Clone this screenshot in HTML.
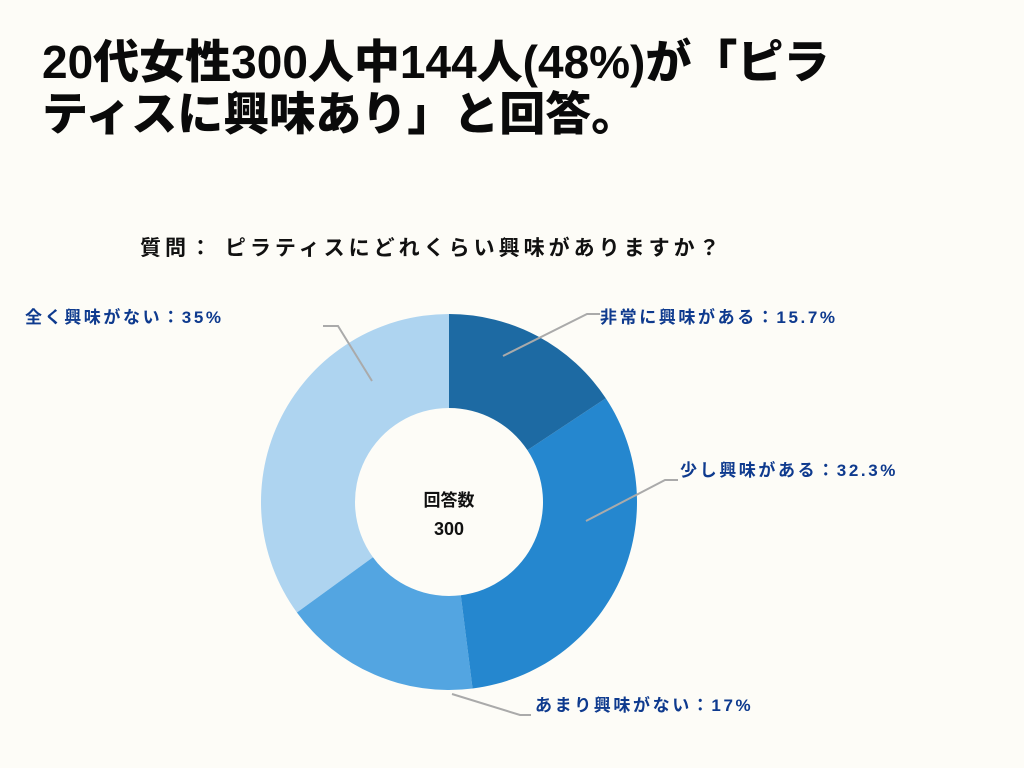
<!DOCTYPE html>
<html><head><meta charset="utf-8"><style>
body{margin:0;background:#fdfcf7;}
#wrap{position:relative;width:1024px;height:768px;overflow:hidden;font-family:"Liberation Sans","Noto Sans CJK JP",sans-serif;}
h1{position:absolute;left:42px;top:36px;margin:0;font-size:46px;line-height:52px;font-weight:900;color:#0a0a0a;letter-spacing:0px;white-space:nowrap}
.q{position:absolute;left:140px;top:232px;font-size:21px;font-weight:bold;color:#111;letter-spacing:4px;white-space:nowrap}
.lab{position:absolute;font-size:17px;font-weight:bold;color:#0e3a8e;letter-spacing:2.6px;white-space:nowrap}
</style></head><body>
<div id="wrap">
<h1>20代女性300人中144人(48%)が「ピラ<br>ティスに興味あり」と回答。</h1>
<div class="q">質問： ピラティスにどれくらい興味がありますか？</div>
<svg id="svg" width="1024" height="768" style="position:absolute;left:0;top:0">
<text x="449" y="506" text-anchor="middle" font-size="17" font-weight="bold" fill="#111" font-family="Liberation Sans,Noto Sans CJK JP,sans-serif">回答数</text>
<text x="449" y="535" text-anchor="middle" font-size="18" font-weight="bold" fill="#111" font-family="Liberation Sans,sans-serif">300</text>
</svg>
<div class="lab" style="left:600px;top:303px">非常に興味がある：15.7%</div>
<div class="lab" style="left:680px;top:456px">少し興味がある：32.3%</div>
<div class="lab" style="left:535px;top:691px">あまり興味がない：17%</div>
<div class="lab" style="left:25px;top:303px">全く興味がない：35%</div>
</div>
<script>
const categories=["非常に興味がある","少し興味がある","あまり興味がない","全く興味がない"];
const values=[15.7,32.3,17,35];
const colors=["#1d6aa3","#2587cf","#53a5e1","#aed4f0"];
const svg=document.getElementById('svg');
const NS="http://www.w3.org/2000/svg";
const cx=449,cy=502,R=188,r=94;
const total=values.reduce((a,b)=>a+b,0);
function pt(a,rad){return [cx+rad*Math.sin(a),cy-rad*Math.cos(a)];}
let acc=0;
values.forEach((v,i)=>{
  const a0=acc/total*2*Math.PI; acc+=v; const a1=acc/total*2*Math.PI;
  const lg=(a1-a0)>Math.PI?1:0;
  const p0=pt(a0,R),p1=pt(a1,R),q1=pt(a1,r),q0=pt(a0,r);
  const p=document.createElementNS(NS,'path');
  p.setAttribute('d',`M${p0}A${R},${R} 0 ${lg} 1 ${p1}L${q1}A${r},${r} 0 ${lg} 0 ${q0}Z`);
  p.setAttribute('fill',colors[i]);
  
  
  svg.insertBefore(p,svg.firstChild);
});
const leaders=[[[503,356],[587,314],[600,314]],[[586,521],[665,480],[678,480]],[[452,694],[520,715],[531,715]],[[372,381],[338,326],[323,326]]];
leaders.forEach((l,i)=>{
  const pl=document.createElementNS(NS,'polyline');
  pl.setAttribute('points',l.map(p=>p.join(',')).join(' '));
  pl.setAttribute('fill','none');pl.setAttribute('stroke','#aaa');pl.setAttribute('stroke-width','2');
  
  
  svg.appendChild(pl);
});
</script>
</body></html>
